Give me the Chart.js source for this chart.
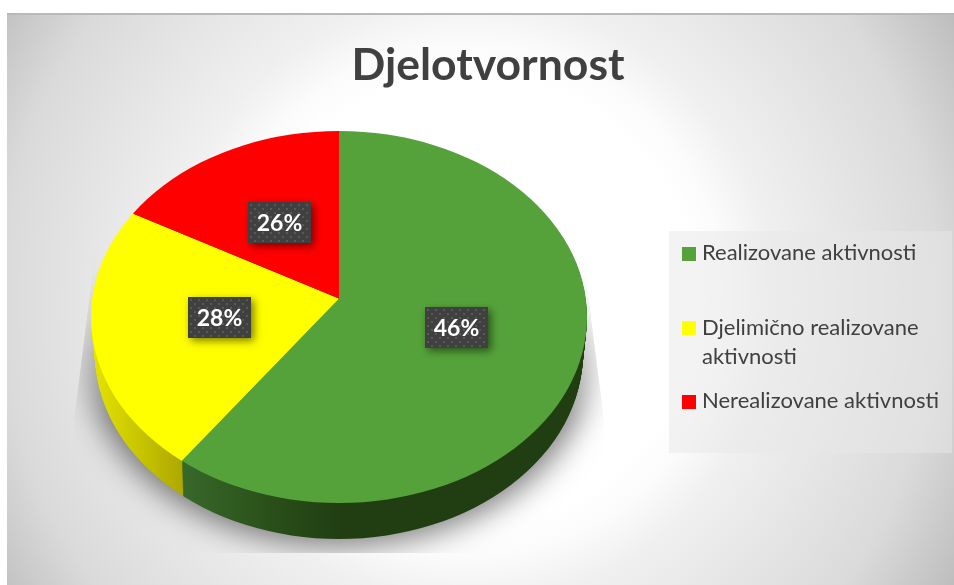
<!DOCTYPE html>
<html>
<head>
<meta charset="utf-8">
<style>html,body{margin:0;padding:0;background:#fff}canvas{display:block}</style>
<script src="https://cdn.jsdelivr.net/npm/chart.js@4"></script>
</head>
<body>
<div style="width:954px;height:585px"><canvas id="c" width="954" height="585"></canvas></div>
<script>
// Data
const titleText = 'Djelotvornost';
const categories = ['Realizovane aktivnosti', ['Djelimično realizovane', 'aktivnosti'], 'Nerealizovane aktivnosti'];
// Share of the disc each slice occupies as drawn in the picture
const sliceShares = [60, 23, 17];
// Percentages printed on the slices in the picture
const printedLabels = ['46%', '28%', '26%'];
const sliceColors = ['#55a23a', '#ffff00', '#ff0000'];

// Layout of the tilted disc
const APEX = {x: 339, y: 298.5};
const RIM = {x: 339, y: 317, rx: 248, ry: 186};
const TILT = RIM.ry / RIM.rx;
const DEPTH = 36, DEPTH_SHRINK = 4;
const LABEL_BOXES = [[425, 307], [188, 297], [248, 202]];
const LABEL_W = 63, LABEL_H = 41;
const LEGEND_ROWS = [{sw: 247, base: [260]}, {sw: 321, base: [335, 364]}, {sw: 395, base: [408]}];
const FONT = 'Lato, "Open Sans", sans-serif';

// Gradients are read in the tilted space of the arc, so x is converted from screen to arc coordinates.
function sideFill(ctx, i, el) {
  const ax = sx => sx - APEX.x + el.x;
  if (i === 0) {
    const g = ctx.createLinearGradient(ax(183), 0, ax(340), 0);
    g.addColorStop(0, '#38682a'); g.addColorStop(0.55, '#2a5019'); g.addColorStop(1, '#203e12');
    return g;
  }
  if (i === 1) {
    const g = ctx.createLinearGradient(ax(92), 0, ax(186), 0);
    g.addColorStop(0, '#e4e400'); g.addColorStop(1, '#aca600');
    return g;
  }
  return '#a00000';
}

function rimClip(ctx, shift) {
  const s = shift / DEPTH;
  ctx.beginPath();
  ctx.ellipse(RIM.x, RIM.y + shift, RIM.rx - DEPTH_SHRINK * s, RIM.ry, 0, 0, Math.PI * 2);
  ctx.clip();
}

function toDisc(ctx, el, shift) {
  ctx.translate(APEX.x, APEX.y + shift);
  ctx.scale(1, TILT);
  ctx.translate(-el.x, -el.y);
}

function shadowLayer() {
  const off = document.createElement('canvas');
  off.width = 954; off.height = 585;
  const o = off.getContext('2d');
  o.beginPath();
  o.moveTo(96, 250); o.lineTo(74, 420); o.lineTo(74, 553);
  o.lineTo(604, 553); o.lineTo(604, 420); o.lineTo(582, 250);
  o.closePath();
  o.clip();
  o.shadowColor = 'rgba(0,0,0,0.5)';
  o.shadowBlur = 30;
  o.shadowOffsetX = 2000;
  o.fillStyle = '#000';
  o.beginPath();
  o.ellipse(339 - 2000, 356, 252, 190, 0, 0, Math.PI * 2);
  o.fill();
  o.shadowColor = 'transparent';
  o.globalCompositeOperation = 'destination-in';
  const m = o.createLinearGradient(0, 255, 0, 420);
  m.addColorStop(0, 'rgba(0,0,0,0)');
  m.addColorStop(1, 'rgba(0,0,0,1)');
  o.fillStyle = m;
  o.fillRect(0, 0, 954, 585);
  return off;
}

const stage = {
  id: 'stage',
  beforeDraw(chart) {
    const ctx = chart.ctx;
    ctx.fillStyle = '#fff';
    ctx.fillRect(0, 0, 954, 585);
    const g = ctx.createRadialGradient(470, 300, 0, 470, 300, 560);
    g.addColorStop(0, '#ffffff'); g.addColorStop(0.40, '#ffffff'); g.addColorStop(0.46, '#fbfbfb');
    g.addColorStop(0.54, '#f0f0f0'); g.addColorStop(0.84, '#dadada'); g.addColorStop(1, '#bebebe');
    ctx.fillStyle = g;
    ctx.fillRect(7, 13, 947, 572);
    ctx.fillStyle = '#b9b9b9';
    ctx.fillRect(7, 13, 947, 2);

    // legend panel
    ctx.fillStyle = 'rgba(232,232,232,0.5)';
    ctx.fillRect(669, 231, 283, 222);
  },
  beforeDatasetsDraw(chart) {
    const ctx = chart.ctx;
    const arcs = chart.getDatasetMeta(0).data;
    ctx.drawImage(shadowLayer(), 0, 0);
    // side wall of the disc
    for (let d = DEPTH; d >= 1; d--) {
      ctx.save();
      rimClip(ctx, d);
      arcs.forEach((el, i) => {
        ctx.save();
        ctx.fillStyle = sideFill(ctx, i, el);
        toDisc(ctx, el, d);
        ctx.beginPath();
        ctx.moveTo(el.x, el.y);
        ctx.arc(el.x, el.y, el.outerRadius, el.startAngle, el.endAngle);
        ctx.closePath();
        ctx.fill();
        ctx.restore();
      });
      ctx.restore();
    }
    // top face: the library's arcs, tilted and trimmed to the rim
    ctx.save();
    rimClip(ctx, 0);
    toDisc(ctx, arcs[0], 0);
  },
  afterDatasetsDraw(chart) {
    const ctx = chart.ctx;
    ctx.restore();

    // printed labels
    printedLabels.forEach((t, i) => {
      const [x, y] = LABEL_BOXES[i];
      ctx.save();
      ctx.shadowColor = 'rgba(0,0,0,0.5)';
      ctx.shadowBlur = 8;
      ctx.shadowOffsetX = 3;
      ctx.shadowOffsetY = 3;
      ctx.fillStyle = '#404040';
      ctx.fillRect(x, y, LABEL_W, LABEL_H);
      ctx.restore();
      ctx.fillStyle = '#585858';
      for (let row = 0; row * 4 < LABEL_H - 2; row++) {
        for (let col = 0; col * 8 < LABEL_W - 2; col++) {
          const dx = x + 2 + col * 8 + (row % 2 ? 4 : 0);
          if (dx + 2 <= x + LABEL_W) ctx.fillRect(dx, y + 2 + row * 4, 2, 2);
        }
      }
      ctx.fillStyle = '#ffffff';
      ctx.font = 'bold 23px ' + FONT;
      ctx.textAlign = 'center';
      ctx.textBaseline = 'middle';
      ctx.fillText(t, x + LABEL_W / 2, y + LABEL_H / 2 + 1);
    });

    // legend
    ctx.textAlign = 'left';
    ctx.textBaseline = 'alphabetic';
    ctx.font = '22px ' + FONT;
    categories.forEach((name, i) => {
      const row = LEGEND_ROWS[i];
      ctx.fillStyle = sliceColors[i];
      ctx.fillRect(682, row.sw, 14, 14);
      ctx.fillStyle = '#404040';
      [].concat(name).forEach((line, k) => ctx.fillText(line, 702, row.base[k]));
    });
  }
};

new Chart(document.getElementById('c'), {
  type: 'pie',
  data: {
    labels: categories,
    datasets: [{
      data: sliceShares,
      backgroundColor: sliceColors,
      borderWidth: 0,
      radius: 330,
      clip: false
    }]
  },
  options: {
    responsive: false,
    animation: false,
    layout: {padding: {left: 22, right: 0, top: 0, bottom: 0}},
    plugins: {
      legend: {display: false},
      tooltip: {enabled: false},
      title: {
        display: true,
        text: titleText,
        color: '#404040',
        font: {family: FONT, size: 44.5, weight: 'bold'},
        padding: {top: 39, bottom: 10},
        align: 'center'
      }
    }
  },
  plugins: [stage]
});
</script>
</body>
</html>
